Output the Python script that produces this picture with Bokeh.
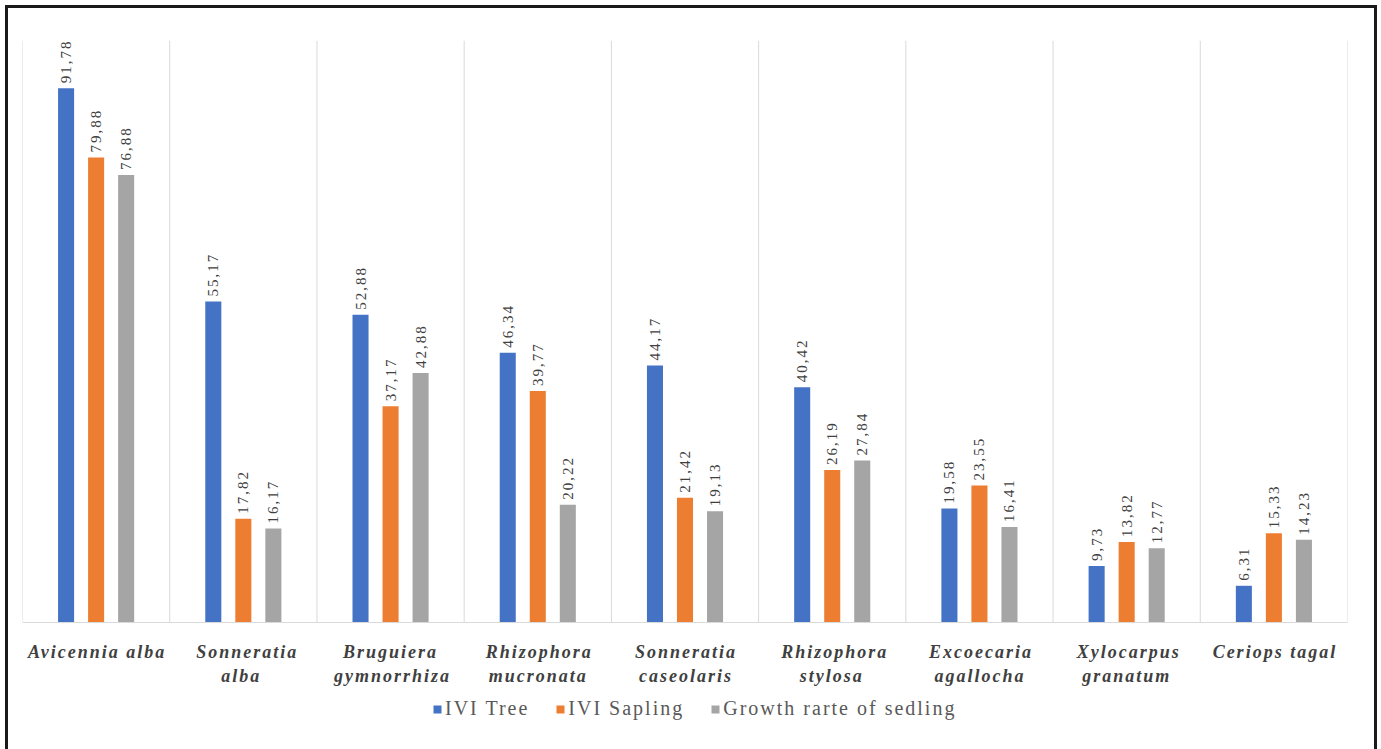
import math
from bokeh.plotting import figure
from bokeh.models import (ColumnDataSource, FixedTicker, Range1d, Legend, LegendItem,
                          InlineStyleSheet)
from bokeh.core.properties import value
from bokeh.embed import file_html
from bokeh.resources import INLINE

species = ["Avicennia alba", "Sonneratia\nalba", "Bruguiera\ngymnorrhiza",
           "Rhizophora\nmucronata", "Sonneratia\ncaseolaris", "Rhizophora\nstylosa",
           "Excoecaria\nagallocha", "Xylocarpus\ngranatum", "Ceriops tagal"]
ivi_tree = [91.78, 55.17, 52.88, 46.34, 44.17, 40.42, 19.58, 9.73, 6.31]
ivi_sapling = [79.88, 17.82, 37.17, 39.77, 21.42, 26.19, 23.55, 13.82, 15.33]
growth_seedling = [76.88, 16.17, 42.88, 20.22, 19.13, 27.84, 16.41, 12.77, 14.23]
series_names = ["IVI Tree", "IVI Sapling", "Growth rarte of sedling"]

colors = ["#4472C4", "#ED7D31", "#A5A5A5"]
SERIF = "Liberation Serif"
LETTER_SPACING = 2  # px, applied through CSS to all texts
n = len(species)

W, H = 1381, 749
ML, MR, MT = 22, 34, 40
px_per_x = (W - ML - MR) / n

# frame spans y 40..749 px; value 0 sits at 622 px, 100 at 40 px
p = figure(width=W, height=H, output_backend="svg", toolbar_location=None,
           x_range=Range1d(0, n), y_range=Range1d(-21.82, 100),
           y_axis_location=None, min_border_left=ML, min_border_right=MR,
           min_border_top=MT, min_border_bottom=0)
p.outline_line_color = None
p.background_fill_color = "white"
p.border_fill_color = "white"
p.grid.visible = False

# category separators
p.segment(x0=list(range(n + 1)), y0=[0] * (n + 1), x1=list(range(n + 1)),
          y1=[100] * (n + 1), line_color="#d9d9d9", line_width=1)

# category labels; tick shifted to compensate the letter-spacing drift
def comp(label):
    lines = label.split("\n")
    mean_len = sum(len(l) - 1 for l in lines) / len(lines)
    return mean_len * LETTER_SPACING / 2 / px_per_x

ticks = [i + 0.5 - comp(s) for i, s in enumerate(species)]
ax = p.xaxis[0]
ax.fixed_location = 0
ax.ticker = FixedTicker(ticks=ticks)
ax.major_label_overrides = {t: s for t, s in zip(ticks, species)}
ax.major_tick_line_color = None
ax.minor_tick_line_color = None
ax.axis_line_color = "#d9d9d9"
ax.major_label_text_font = SERIF
ax.major_label_text_font_style = "bold italic"
ax.major_label_text_font_size = "18px"
ax.major_label_text_color = "#404040"
ax.major_label_standoff = 13

offsets = [-0.204, 0.0, 0.204]
bar_w = 0.109
items = []
for k, vals in enumerate([ivi_tree, ivi_sapling, growth_seedling]):
    xs = [i + 0.5 + offsets[k] for i in range(n)]
    src = ColumnDataSource(dict(x=xs, top=vals,
                                lab=[f"{v:.2f}".replace(".", ",") for v in vals]))
    r = p.vbar(x="x", top="top", bottom=0, width=bar_w, source=src,
               fill_color=colors[k], line_color=None)
    p.text(x="x", y="top", text="lab", source=src, angle=math.pi / 2,
           text_align="left", text_baseline="middle", y_offset=-5,
           text_font=value(SERIF), text_font_size="15px", text_color="#404040")
    items.append(LegendItem(label=series_names[k], renderers=[r]))

legend = Legend(items=items, orientation="horizontal", location=(410, 29),
                label_text_font=SERIF, label_text_font_size="20px",
                label_text_color="#595959", glyph_width=10, glyph_height=10,
                spacing=26, padding=0, margin=0, label_standoff=3,
                border_line_color=None, background_fill_alpha=0)
p.add_layout(legend, "center")

css = """
:host { letter-spacing: %dpx; }
:host::after {
  content: "";
  position: absolute;
  left: 5px; top: 5px; right: 4px; bottom: 0px;
  border-style: solid solid none solid;
  border-width: 3px;
  border-color: #1a1a1a;
  pointer-events: none;
  z-index: 10;
}
""" % LETTER_SPACING
p.stylesheets = [InlineStyleSheet(css=css)]

open("out.html", "w").write(file_html(p, INLINE))
